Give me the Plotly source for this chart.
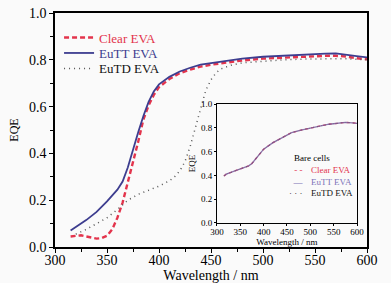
import plotly.graph_objects as go

# ---- data ----
clear_wl = [315, 320, 325, 330, 335, 340, 345, 350, 355, 360, 365, 370, 375, 380, 385, 390, 395, 400,
            410, 420, 430, 440, 450, 460, 470, 480, 500, 520, 540, 560, 570, 580, 590, 600]
clear_eqe = [0.045, 0.048, 0.050, 0.045, 0.040, 0.036, 0.038, 0.048, 0.075, 0.125, 0.19, 0.275, 0.37,
             0.45, 0.545, 0.605, 0.65, 0.683, 0.718, 0.743, 0.758, 0.771, 0.779, 0.786, 0.792, 0.797,
             0.805, 0.810, 0.814, 0.817, 0.817, 0.814, 0.807, 0.802]

eutt_wl = [315, 320, 330, 340, 350, 360, 365, 370, 375, 380, 385, 390, 395, 400, 410, 420, 430, 440,
           450, 460, 470, 480, 500, 520, 540, 560, 570, 580, 590, 600]
eutt_eqe = [0.07, 0.085, 0.115, 0.15, 0.195, 0.245, 0.28, 0.34, 0.42, 0.49, 0.56, 0.62, 0.665, 0.695,
            0.727, 0.75, 0.766, 0.779, 0.786, 0.793, 0.800, 0.805, 0.813, 0.818, 0.822, 0.826, 0.827,
            0.823, 0.816, 0.81]

eutd_wl = [320, 330, 340, 350, 360, 370, 380, 390, 400, 410, 415, 420, 425, 430, 435, 440, 445, 450,
           455, 460, 470, 480, 500, 520, 540, 560, 580, 590, 600]
eutd_eqe = [0.055, 0.075, 0.10, 0.125, 0.16, 0.20, 0.225, 0.242, 0.26, 0.283, 0.30, 0.325, 0.365, 0.43,
            0.51, 0.595, 0.67, 0.715, 0.745, 0.762, 0.778, 0.787, 0.795, 0.80, 0.803, 0.805, 0.805,
            0.802, 0.80]

bare_wl = [315, 320, 340, 360, 368, 375, 380, 390, 400, 420, 440, 460, 480, 500, 520, 540, 560, 575,
           590, 600]
bare_eqe = [0.395, 0.41, 0.44, 0.465, 0.48, 0.50, 0.525, 0.575, 0.62, 0.675, 0.72, 0.76, 0.78, 0.80,
            0.815, 0.83, 0.84, 0.845, 0.842, 0.838]

series_names = ["Clear EVA", "EuTT EVA", "EuTD EVA"]
inset_title = "Bare cells"
x_title = "Wavelength / nm"
y_title = "EQE"

RED = "#e3344c"
BLUE = "#3d3d8f"
DOT = "#555555"
INSET_PURPLE = "#7a5c9e"
INSET_LABEL_BLUE = "#7a72b8"
FONT = "Liberation Serif"

fig = go.Figure()

# main traces, one legend each so the rows can be spaced like the reference
fig.add_trace(go.Scatter(x=clear_wl, y=clear_eqe, mode="lines",
                         name=f"<span style='color:{RED}'>{series_names[0]}</span>",
                         line=dict(color=RED, width=2.4, dash="5px,3px"), legend="legend"))
fig.add_trace(go.Scatter(x=eutt_wl, y=eutt_eqe, mode="lines",
                         name=f"<span style='color:{BLUE}'>{series_names[1]}</span>",
                         line=dict(color=BLUE, width=1.8), legend="legend2"))
fig.add_trace(go.Scatter(x=eutd_wl, y=eutd_eqe, mode="lines",
                         name=f"<span style='color:#111'>{series_names[2]}</span>",
                         line=dict(color=DOT, width=1.5, dash="1px,4px"), legend="legend3"))

# inset traces (bare cells)
fig.add_trace(go.Scatter(x=bare_wl, y=bare_eqe, mode="lines", xaxis="x2", yaxis="y2",
                         name=series_names[0], showlegend=False,
                         line=dict(color=RED, width=1.3, dash="3px,3px")))
fig.add_trace(go.Scatter(x=bare_wl, y=bare_eqe, mode="lines", xaxis="x2", yaxis="y2",
                         name=series_names[1], showlegend=False,
                         line=dict(color=INSET_PURPLE, width=1.3), opacity=0.85))
fig.add_trace(go.Scatter(x=bare_wl, y=bare_eqe, mode="lines", xaxis="x2", yaxis="y2",
                         name=series_names[2], showlegend=False,
                         line=dict(color=DOT, width=1.0, dash="1px,3px"), opacity=0.4))

axis_common = dict(showline=True, linecolor="black", mirror=True, ticks="outside",
                   tickcolor="black", showgrid=False, zeroline=False, automargin=False)

leg_common = dict(xanchor="left", yanchor="middle", bgcolor="rgba(0,0,0,0)",
                  font=dict(size=13), itemwidth=30, borderwidth=0)

# inset legend as text: one block of key glyphs and one block of labels
inset_keys = [("- -", RED), ("\u2014", INSET_LABEL_BLUE), ("\u00b7 \u00b7 \u00b7", "#222")]
inset_label_colors = [RED, INSET_LABEL_BLUE, "#111"]
key_text = "<br>".join(f"<span style='color:{c}'>{k}</span>" for k, c in inset_keys)
label_text = "<br>".join(f"<span style='color:{c}'>{n}</span>"
                         for n, c in zip(series_names, inset_label_colors))
annotations = [
    dict(text=inset_title, x=0.824, y=0.380, xref="paper", yref="paper",
         showarrow=False, xanchor="center", yanchor="middle",
         font=dict(size=9, family=FONT, color="black")),
    dict(text=key_text, x=0.800, y=0.282, xref="paper", yref="paper", showarrow=False,
         xanchor="right", yanchor="middle", align="right", borderpad=0,
         font=dict(size=9, family=FONT)),
    dict(text=label_text, x=0.818, y=0.282, xref="paper", yref="paper", showarrow=False,
         xanchor="left", yanchor="middle", align="left", borderpad=0,
         font=dict(size=9, family=FONT)),
]

fig.update_layout(
    template="none",
    width=391, height=283,
    margin=dict(l=55, r=24, t=13, b=36),
    paper_bgcolor="#fafafa", plot_bgcolor="#fafafa",
    font=dict(family=FONT, size=13, color="black"),
    xaxis=dict(range=[300, 600], dtick=50, tick0=300, linewidth=1.5, ticklen=4, tickwidth=1.2,
               tickfont=dict(size=14), ticklabelstandoff=-5,
               title=dict(text=x_title, font=dict(size=14), standoff=0),
               minor=dict(ticks="outside", dtick=25, ticklen=3, tickcolor="black"),
               **axis_common),
    yaxis=dict(range=[0, 1], dtick=0.2, tick0=0, tickformat=".1f", linewidth=1.5, ticklen=4,
               tickwidth=1.2, tickfont=dict(size=14),
               title=dict(text=y_title, font=dict(size=12), standoff=8),
               minor=dict(ticks="outside", dtick=0.1, ticklen=3, tickcolor="black"),
               **axis_common),
    xaxis2=dict(domain=[0.519, 0.968], anchor="y2", range=[300, 600], dtick=50, tick0=300,
                linewidth=1, ticklen=2, tickfont=dict(size=9), ticklabelstandoff=-2,
                title=dict(text=x_title, font=dict(size=9), standoff=0),
                **axis_common),
    yaxis2=dict(domain=[0.103, 0.611], anchor="x2", range=[0, 1], dtick=0.2, tick0=0,
                tickformat=".1f", linewidth=1, ticklen=2, tickfont=dict(size=9),
                title=dict(text=y_title, font=dict(size=9), standoff=3),
                **axis_common),
    legend=dict(x=0.013, y=0.895, **leg_common),
    legend2=dict(x=0.013, y=0.829, **leg_common),
    legend3=dict(x=0.013, y=0.763, **leg_common),
    annotations=annotations,
    showlegend=True,
)

fig.write_html("out.html", config={"displayModeBar": False},
               post_script="document.body.style.margin='0px';"
                           "document.body.style.overflow='hidden';")
